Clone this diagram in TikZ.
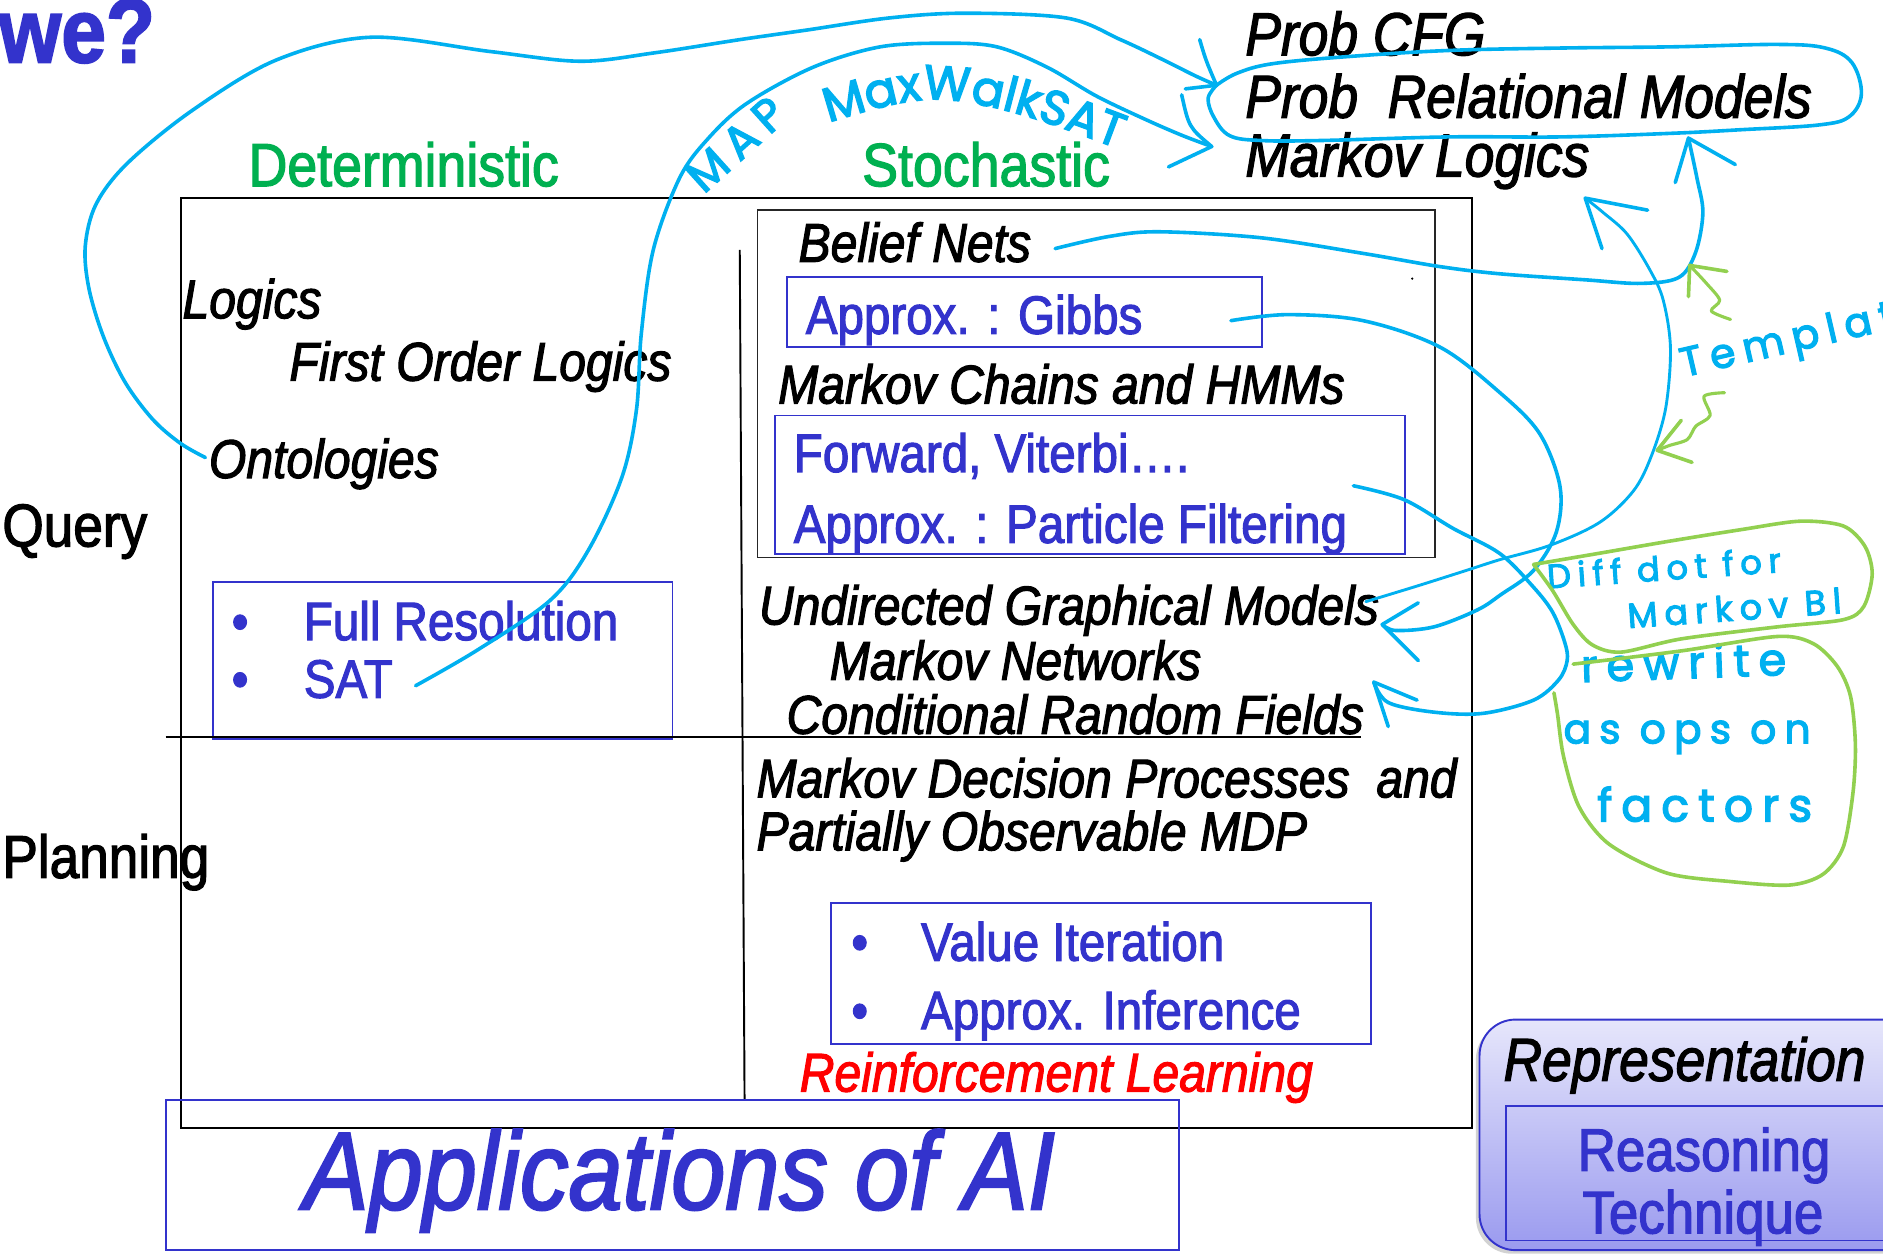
\documentclass[tikz,border=0pt]{standalone}
\usepackage{fontspec}
\setmainfont{Liberation Sans}[FakeStretch=0.88, FakeBold=2]
\newfontfamily\handfont{Poppins}[LetterSpace=20, FakeBold=3]
\newfontfamily\handtight{Poppins}[FakeBold=3]
\usetikzlibrary{decorations.text,shadows}

\definecolor{slideblue}{HTML}{3333CC}
\definecolor{penblue}{HTML}{00B0F0}
\definecolor{pengreen}{HTML}{92D050}
\definecolor{headgreen}{HTML}{00B050}
\definecolor{slidered}{HTML}{FF0000}
\definecolor{lavtop}{HTML}{E6E6FB}
\definecolor{lavbot}{HTML}{9A9AEF}

\begin{document}
\begin{tikzpicture}[x=1pt, y=-1pt,
  txt/.style={anchor=base west, inner sep=0pt, outer sep=0pt},
  model/.style={txt, font=\fontsize{45.5}{50}\selectfont\itshape},
  bigmodel/.style={txt, font=\fontsize{50.5}{56}\selectfont\itshape},
  algo/.style={txt, text=slideblue, font=\fontsize{45}{50}\selectfont},
  colhead/.style={txt, text=headgreen, font=\fontsize{50.8}{56}\selectfont},
  rowhead/.style={txt, font=\fontsize{50.3}{56}\selectfont},
  framebox/.style={draw=black, line width=1.6pt, inner sep=0pt, outer sep=0pt},
  thinframe/.style={draw=black!85, line width=1.1pt, inner sep=0pt, outer sep=0pt},
  algobox/.style={draw=slideblue, line width=1.6pt, inner sep=0pt, outer sep=0pt},
  divider/.style={draw=black, line width=1.6pt},
  pen/.style={draw=penblue, line width=3pt, line cap=round, line join=round},
  thinpen/.style={pen, line width=2.4pt},
  gpen/.style={draw=pengreen, line width=3pt, line cap=round, line join=round},
  note/.style={txt, text=penblue},
]
\useasboundingbox (0,0) rectangle (1568,1044);
\fill[white] (0,0) rectangle (1568,1044);

% ---- frames and boxes ----
\node[framebox, minimum width=1075pt, minimum height=774pt] (frame) at (688.5,552) {};
\node[thinframe, minimum width=564pt, minimum height=289pt] (stochq) at (913,319.5) {};
\node[algobox, minimum width=383pt, minimum height=130pt] (resbox) at (368.5,550) {};
\node[algobox, minimum width=396pt, minimum height=58pt] (gibbsbox) at (853,260) {};
\node[algobox, minimum width=525pt, minimum height=115pt] (fwdbox) at (907.5,403.5) {};
\node[algobox, minimum width=450pt, minimum height=117pt] (valuebox) at (917,810.5) {};
\node[algobox, minimum width=844pt, minimum height=125pt] (appbox) at (560,978.5) {};
\draw[divider] (616,208) -- (620,915);
\draw[divider] (138,614) -- (1133,614);
\node[circle, fill=black, inner sep=0.7pt] (speck) at (1176,232) {};

% ---- representation legend ----
\node[draw=slideblue, line width=1.6pt, rounded corners=30pt, top color=lavtop, bottom color=lavbot,
      minimum width=388pt, minimum height=192pt, inner sep=0pt,
      drop shadow={shadow xshift=-3pt, shadow yshift=-3pt, opacity=0.35}] (repbox) at (1426,945) {};
\node[draw=slideblue, line width=1.4pt, minimum width=366pt, minimum height=112pt, inner sep=0pt] (reasonbox) at (1437,977) {};
\node[bigmodel] (repr) at (1252,900) {Representation};
\node[anchor=base, inner sep=0pt, text=slideblue, font=\fontsize{50}{56}\selectfont] (reason) at (1419,975) {Reasoning};
\node[anchor=base, inner sep=0pt, text=slideblue, font=\fontsize{50}{56}\selectfont] (tech) at (1418,1027) {Technique};

% ---- headings ----
\node[txt, text=slideblue, font=\fontsize{76}{80}\selectfont\bfseries] (we) at (-1,52) {we?};
\node[colhead] (det) at (207,155) {Deterministic};
\node[colhead] (sto) at (718,155) {Stochastic};
\node[rowhead] (query) at (2,455) {Query};
\node[rowhead] (plan) at (2,731) {Planning};
\node[bigmodel] (pcfg) at (1037,46) {Prob CFG};
\node[bigmodel] (prm) at (1037,98) {Prob\ \ Relational Models};
\node[bigmodel] (mlog) at (1037,147) {Markov Logics};

% ---- deterministic column ----
\node[model] (logics) at (152,265) {Logics};
\node[model] (fol) at (241,317) {First Order Logics};
\node[model] (ont) at (174,398) {Ontologies};
\node[algo] (fullres) at (193,533) {\makebox[60pt][l]{•}Full Resolution};
\node[algo] (sat) at (193,581) {\makebox[60pt][l]{•}SAT};

% ---- stochastic column ----
\node[model] (belief) at (665,218) {Belief Nets};
\node[algo] (gibbs) at (671,278) {Approx. : Gibbs};
\node[model] (mchain) at (648,336) {Markov Chains and HMMs};
\node[algo] (fwd) at (661,393) {Forward, Viterbi….};
\node[algo] (pf) at (661,452) {Approx. : Particle Filtering};
\node[model] (ugm) at (632,520) {Undirected Graphical Models};
\node[model] (mnet) at (691,566) {Markov Networks};
\node[model] (crf) at (655,611) {Conditional Random Fields};
\node[model] (mdp) at (630,664) {Markov Decision Processes\ \ and};
\node[model] (pomdp) at (630,708) {Partially Observable MDP};
\node[algo] (vi) at (709,800) {\makebox[58pt][l]{•}Value Iteration};
\node[algo] (ai) at (709,857) {\makebox[58pt][l]{•}Approx. Inference};
\node[model, text=slidered] (rl) at (666,909) {Reinforcement Learning};
\node[txt, text=slideblue, font=\fontsize{92}{96}\selectfont\itshape] (apps) at (253,1007) {Applications of AI};

% ---- pen annotations: arrow tips ----
\coordinate (tipA) at (1013,71);
\coordinate (tipB) at (1009,122);
\coordinate (tipC) at (1406,115);
\coordinate (tipD) at (1320,165);
\coordinate (tipE) at (1151,520);
\coordinate (tipF) at (1144,568);
\coordinate (tipG) at (1407,221);
\coordinate (tipH) at (1380,375);

% Ontologies up and over to the relational models
\draw[pen] plot[smooth, tension=0.55] coordinates {([shift={(-3,-17)}]ont.base west) (150,369) (127,349) (104,318) (86,280) (74,240) (71,205) (80,170) (106,136) (160,92) (230,50) (309,31) (409,43) (483,51) (545,44) (616,33) (672,25) (740,15) (803,11) (888,15) (933,33) (969,50) (995,63) (tipA)};
\draw[pen] (999,33) .. controls (1004,50) .. (tipA) -- (987,74);
\draw[pen] plot[smooth, tension=0.6] coordinates {(tipA) (1030,61) (1060,53) (1124,47) (1207,42) (1300,40) (1392,39) (1480,37) (1520,40) (1542,52) (1550,78) (1540,97) (1515,104) (1450,108) (1392,111) (1300,114) (1207,114) (1100,117) (1050,117) (1024,113) (1011,98) (1006,82) (tipA)};

% SAT to Markov Logics
\draw[pen] plot[smooth, tension=0.55] coordinates {([shift={(19,-10)}]sat.base east) (398,541) (458,500) (490,458) (518,397) (530,341) (534,278) (544,208) (566,148) (590,115) (622,86) (677,56) (733,39) (788,36) (830,39) (872,56) (913,80) (955,100) (985,113) (tipB)};
\draw[pen] (984,79) .. controls (990,106) .. (tipB) -- (973,139);

% Belief Nets to the relational models
\draw[pen] plot[smooth, tension=0.55] coordinates {([shift={(20,-11)}]belief.base east) (923,197) (965,193) (1050,198) (1135,211) (1199,222) (1249,228) (1320,233) (1366,236) (1398,231) (1412,210) (1418,177) (1413,148) (tipC)};
\draw[pen] (1395,152) -- (tipC) -- (1445,137);

% Undirected models to Markov Logics
\draw[thinpen] plot[smooth, tension=0.55] coordinates {([shift={(-11,-19)}]ugm.base east) (1180,488) (1221,475) (1249,466) (1291,454) (1332,435) (1360,409) (1375,380) (1387,340) (1391,290) (1385,250) (1374,225) (1355,195) (1335,177) (tipD)};
\draw[pen] (1372,175) -- (tipD) -- (1334,207);

% Gibbs to undirected models
\draw[pen] plot[smooth, tension=0.55] coordinates {([shift={(-26,7)}]gibbsbox.east) (1072,262) (1135,267) (1199,289) (1249,327) (1282,361) (1299,405) (1296,443) (1277,475) (1250,495) (1230,508) (1194,522) (1162,525) (tipE)};
\draw[pen] (1181,502) -- (tipE) -- (1181,550);

% Forward/Viterbi to CRFs
\draw[pen] plot[smooth, tension=0.55] coordinates {([shift={(-43,1)}]fwdbox.east) (1169,416) (1210,440) (1249,461) (1277,489) (1293,510) (1303,535) (1305,550) (1298,566) (1277,583) (1235,594) (1194,593) (1156,585) (tipF)};
\draw[pen] (1180,583) -- (tipF) -- (1156,605);

% handwritten labels
\node[note, font=\handfont\fontsize{38}{40}\selectfont, rotate=42] (map) at (586,162) {MAP};
\path[decorate, decoration={text along path, text format delimiters={|}{|},
      text={|\handtight\fontsize{40}{40}\selectfont|MaxWalkSAT}, text color=penblue}]
  (690,102) .. controls (735,88) and (765,80) .. (795,84) .. controls (850,90) and (905,115) .. (975,140);
\node[note, font=\handfont\fontsize{34}{36}\selectfont, rotate=13] (tmpl) at (1402,314) {Templates};
\node[note, font=\handfont\fontsize{28}{30}\selectfont, rotate=4] (diff) at (1289,490) {Diff dot for};
\node[note, font=\handfont\fontsize{29}{30}\selectfont, rotate=4] (mbl) at (1356,523) {Markov Bl};
\node[note, font=\handfont\fontsize{37}{40}\selectfont, rotate=2] (rewr) at (1317,568) {rewrite};
\node[note, font=\handfont\fontsize{34}{36}\selectfont] (asops) at (1302,619) {as ops on};
\node[note, font=\handfont\fontsize{38}{40}\selectfont] (fact) at (1330,684) {factors};

% green marks
\draw[gpen] (1438,226) -- (tipG) -- (1406,247);
\draw[gpen, line width=2.6pt] plot[smooth, tension=0.5] coordinates {(tipG) (1421,236) (1432,250) (1425,259) (1441,266)};
\draw[gpen, line width=2.6pt] plot[smooth, tension=0.5] coordinates {(1436,327) (1419,330) (1424,346) (1412,355) (1405,366) (1390,371) (tipH)};
\draw[gpen] (1400,350) -- (tipH) -- (1409,385);
\draw[gpen] plot[smooth, tension=0.5] coordinates {(1277,470) (1330,461) (1388,451) (1450,441) (1499,434) (1535,438) (1553,455) (1559,478) (1552,505) (1535,516) (1480,522) (1400,532) (1350,543) (1326,537) (1310,520) (1293,492) (1277,470)};
\draw[gpen] plot[smooth, tension=0.5] coordinates {(1310,553) (1400,542) (1480,530) (1510,536) (1530,555) (1541,580) (1545,620) (1543,660) (1535,705) (1518,728) (1490,737) (1440,734) (1388,727) (1340,703) (1315,672) (1302,630) (1297,595) (1294,577)};
\end{tikzpicture}
\end{document}
